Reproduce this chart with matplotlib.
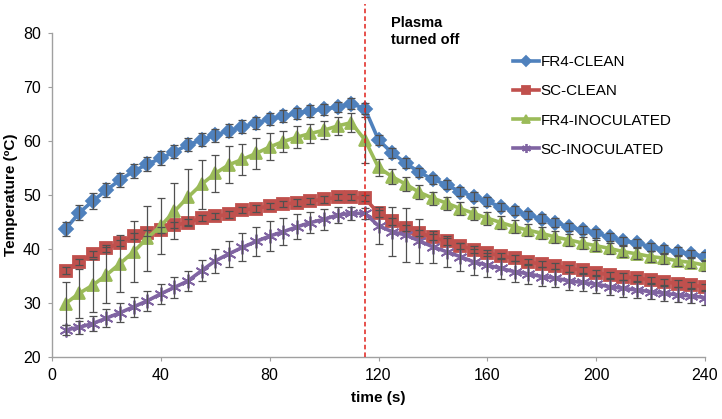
import numpy as np
import matplotlib
matplotlib.use("Agg")
import matplotlib.pyplot as plt

plt.rcParams['font.family'] = ['Liberation Sans', 'DejaVu Sans']

# time points (s)
time_s = np.arange(5, 241, 5)

fr4_clean = [43.7, 46.7, 48.9, 50.9, 52.8, 54.4, 55.7, 56.8, 58.0, 59.3,
             60.2, 61.1, 61.9, 62.6, 63.4, 64.0, 64.6, 65.1, 65.6, 65.9,
             66.3, 66.9, 66.0, 60.2, 57.8, 55.9, 54.2, 52.9, 51.9, 50.6,
             49.7, 48.8, 47.8, 47.1, 46.3, 45.6, 44.9, 44.1, 43.5, 42.9,
             42.2, 41.5, 41.1, 40.4, 39.9, 39.5, 39.1, 38.6]
sc_clean = [36.0, 37.6, 39.1, 40.1, 41.1, 42.4, 43.0, 43.5, 44.4, 44.9,
            45.7, 46.1, 46.4, 47.2, 47.5, 48.0, 48.3, 48.6, 48.9, 49.2,
            49.6, 49.6, 49.4, 46.6, 45.1, 43.9, 43.0, 42.2, 41.4, 40.6,
            39.9, 39.3, 38.7, 38.3, 37.6, 37.2, 36.9, 36.4, 36.1, 35.6,
            35.2, 34.9, 34.6, 34.3, 33.9, 33.6, 33.3, 33.0]
fr4_inoc = [29.9, 31.8, 33.3, 35.2, 37.3, 39.5, 42.0, 44.3, 47.0, 49.6,
            52.0, 54.0, 55.6, 56.6, 57.7, 58.9, 59.9, 60.7, 61.4, 62.0,
            62.8, 63.4, 60.2, 55.1, 53.4, 52.0, 50.5, 49.4, 48.5, 47.5,
            46.6, 45.7, 44.9, 44.1, 43.5, 42.9, 42.2, 41.7, 41.1, 40.6,
            40.1, 39.5, 39.1, 38.6, 38.3, 37.8, 37.5, 37.0]
sc_inoc = [25.0, 25.5, 26.2, 27.2, 28.2, 29.3, 30.4, 31.7, 32.9, 34.1,
           36.0, 37.8, 39.1, 40.3, 41.4, 42.4, 43.2, 44.1, 44.9, 45.5,
           46.3, 46.6, 46.6, 44.3, 43.2, 42.6, 41.5, 40.4, 39.5, 38.6,
           37.6, 37.0, 36.4, 35.8, 35.4, 34.9, 34.6, 34.1, 33.8, 33.5,
           33.0, 32.7, 32.4, 32.1, 31.8, 31.5, 31.3, 31.0]

# error bars (+/-)
fr4_clean_err = [1.3, 1.4, 1.4, 1.3, 1.3, 1.3, 1.3, 1.3, 1.2, 1.2,
                 1.2, 1.2, 1.2, 1.2, 1.1, 1.1, 1.1, 1.1, 1.1, 1.0,
                 1.0, 1.0, 1.0, 0.9, 0.9, 0.9, 0.8, 0.8, 0.8, 0.8,
                 0.8, 0.8, 0.8, 0.8, 0.8, 0.8, 0.8, 0.8, 0.8, 0.8,
                 0.8, 0.8, 0.8, 0.8, 0.8, 0.8, 0.8, 0.8]
sc_clean_err = [0.6] * 48
fr4_inoc_err = [4.0, 4.5, 4.9, 5.2, 5.2, 5.7, 6.0, 5.2, 5.2, 5.2,
                4.5, 3.5, 3.4, 2.9, 2.8, 2.5, 2.0, 2.0, 1.8, 1.7,
                1.6, 1.8, 4.2, 1.5, 1.4, 1.3, 1.3, 1.2, 1.2, 1.2,
                1.2, 1.2, 1.2, 1.2, 1.1, 1.1, 1.1, 1.1, 1.1, 1.0,
                1.0, 1.0, 1.0, 1.0, 1.0, 1.0, 1.0, 1.0]
sc_inoc_err = [1.0, 1.2, 1.4, 1.6, 1.8, 1.9, 1.9, 1.9, 1.9, 1.9,
               2.0, 2.2, 2.4, 2.6, 2.7, 2.7, 2.5, 2.3, 2.0, 2.0,
               1.5, 1.2, 1.0, 3.4, 4.5, 5.0, 4.0, 3.0, 2.9, 2.6,
               2.4, 2.2, 2.0, 1.9, 1.8, 1.8, 1.7, 1.7, 1.6, 1.6,
               1.5, 1.5, 1.5, 1.4, 1.4, 1.4, 1.3, 1.3]

plasma_off = 115

series = [
    ("FR4-CLEAN", fr4_clean, fr4_clean_err, "#4F81BD", "D", 7.5),
    ("SC-CLEAN", sc_clean, sc_clean_err, "#C0504D", "s", 8.5),
    ("FR4-INOCULATED", fr4_inoc, fr4_inoc_err, "#9BBB59", "^", 9),
    ("SC-INOCULATED", sc_inoc, sc_inoc_err, "#8064A2", (6, 2, 0), 10),
]

fig = plt.figure(figsize=(7.22, 4.19), dpi=100)
ax = fig.add_axes([52 / 722, 1 - 357 / 419, 653 / 722, 324 / 419])

for name, vals, err, col, mk, ms in series:
    ax.errorbar(time_s, vals, yerr=err, fmt='none', ecolor='#505050',
                elinewidth=0.9, capsize=3, capthick=0.9, zorder=3)
    ax.plot(time_s, vals, color=col, lw=2.6, marker=mk, markersize=ms,
            markeredgecolor=col, markerfacecolor=col, markeredgewidth=1.3,
            label=name, zorder=2)

# plasma turned off line
ax.axvline(plasma_off, ymin=0, ymax=1.09, color='#E0201B', lw=1.1,
           linestyle=(0, (3, 2)), clip_on=False, zorder=4)
ax.text(plasma_off + 9.5, 83.2, "Plasma\nturned off", fontsize=10.5,
        fontweight='bold', va='top', ha='left', linespacing=1.3)

ax.set_xlim(0, 240)
ax.set_ylim(20, 80)
ax.set_xticks(np.arange(0, 241, 40))
ax.set_yticks(np.arange(20, 81, 10))

for s in ['top', 'right']:
    ax.spines[s].set_visible(False)
for s in ['left', 'bottom']:
    ax.spines[s].set_color('#A0A0A0')
    ax.spines[s].set_linewidth(1.0)
ax.tick_params(axis='both', colors='#A0A0A0', labelcolor='black',
               labelsize=11.5, length=3, direction='out', pad=5)

ax.set_xlabel("time (s)", fontsize=11, fontweight='bold', labelpad=6)
ax.set_ylabel("Temperature (ºC)", fontsize=11, fontweight='bold')
ax.yaxis.set_label_coords(-0.052, 0.5)

leg = fig.legend(loc='upper left', bbox_to_anchor=(513 / 722, 1 - 55 / 419),
                 frameon=False, fontsize=11, handlelength=1.7,
                 handletextpad=0.1, labelspacing=1.0, borderpad=0,
                 borderaxespad=0, markerscale=0.65)

fig.savefig("out.png", dpi=100)
